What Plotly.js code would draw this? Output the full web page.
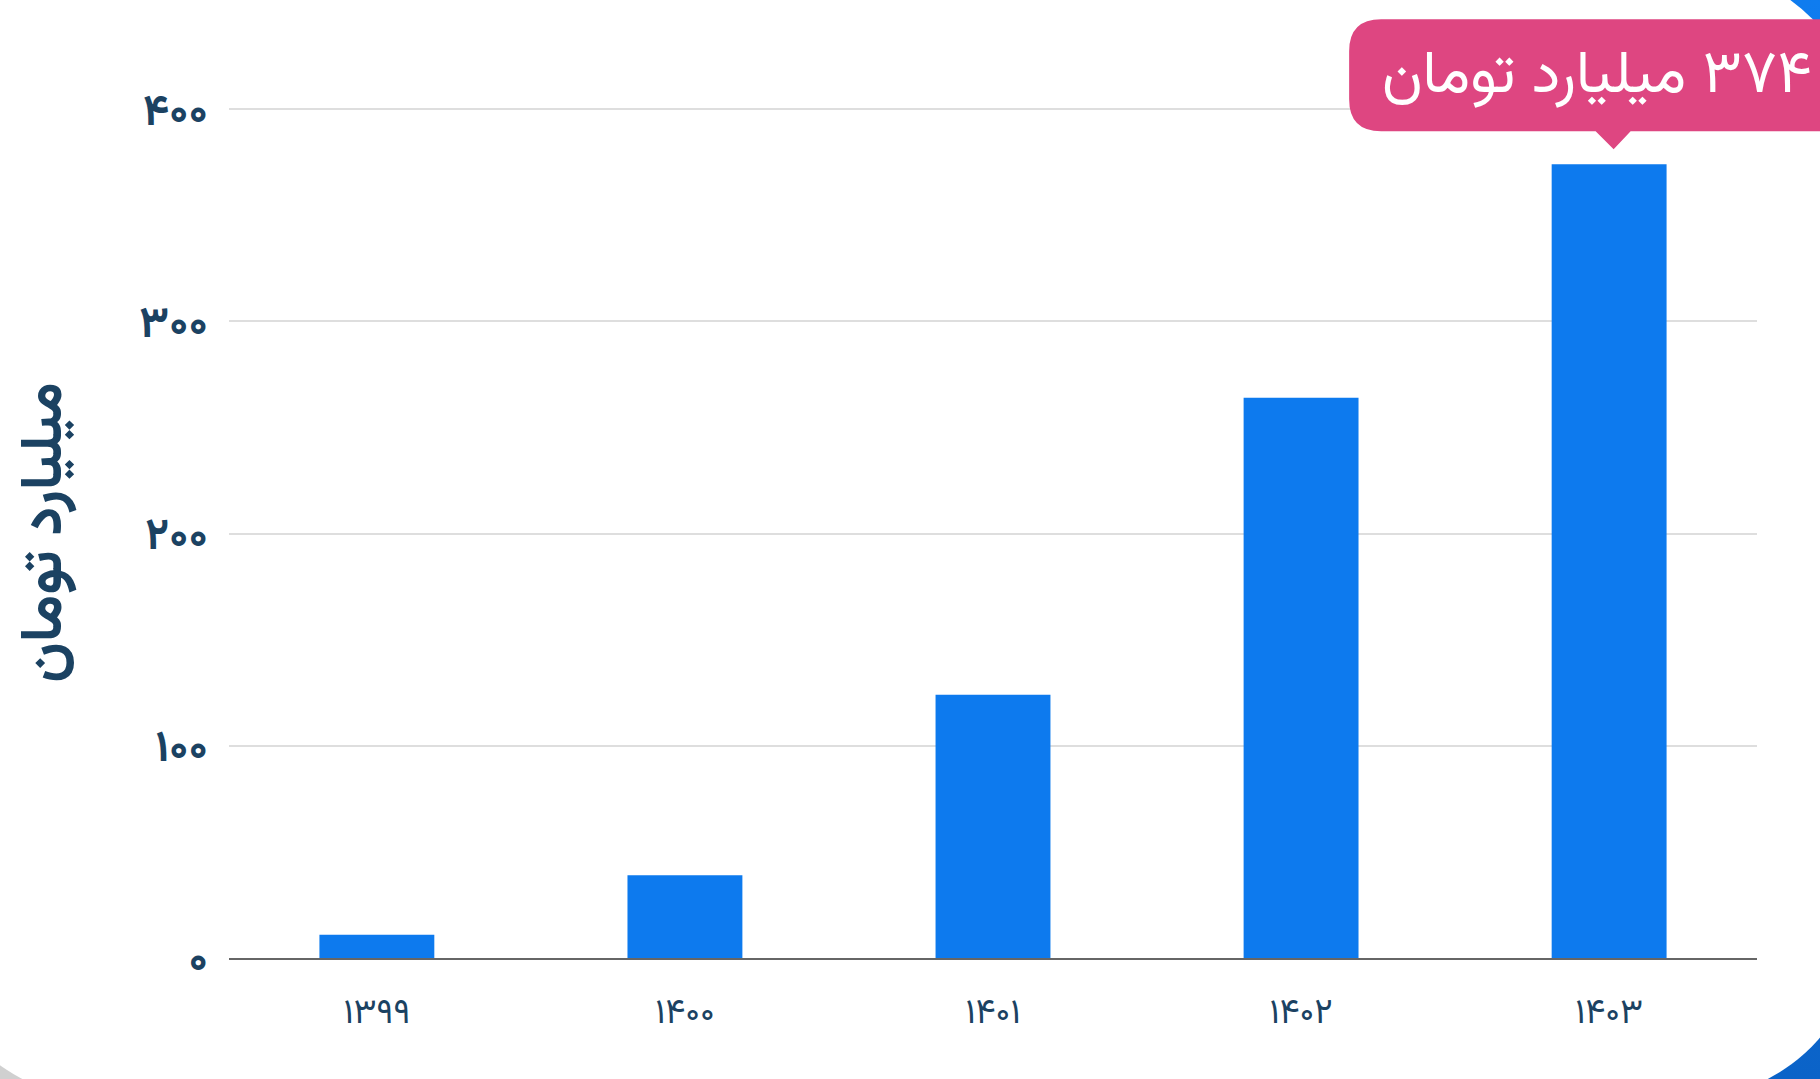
<!DOCTYPE html>
<html>
<head>
<meta charset="utf-8">
<script src="https://cdn.plot.ly/plotly-3.0.1.min.js"></script>
<style>
  html, body { margin: 0; padding: 0; width: 1820px; height: 1079px; overflow: hidden; }
  #bgL { position: absolute; left: 0; top: 0; width: 910px; height: 1079px; background: #d0d0d0; }
  #bgR { position: absolute; left: 910px; top: 0; width: 910px; height: 1079px;
         background: linear-gradient(to bottom, #0f7cef 0%, #0b63c8 100%); }
  #card { position: absolute; left: -75px; top: -35px; width: 1940px; height: 1135px;
          background: #ffffff; border-radius: 182px; }
  #chart { position: absolute; left: 0; top: 0; width: 1820px; height: 1079px; }
</style>
</head>
<body>
<div id="bgL"></div>
<div id="bgR"></div>
<div id="card"></div>
<div id="chart"></div>
<script>
// ---- data ----
const years = ["۱۳۹۹", "۱۴۰۰", "۱۴۰۱", "۱۴۰۲", "۱۴۰۳"];
const revenue = [11, 39, 124, 264, 374];          // میلیارد تومان
const yTickVals = [0, 100, 200, 300, 400];
const yTickText = ["۰", "۱۰۰", "۲۰۰", "۳۰۰", "۴۰۰"];
const unitLabel = "میلیارد تومان";

const faDigits = "۰۱۲۳۴۵۶۷۸۹";
function toFa(n) { return String(n).replace(/[0-9]/g, d => faDigits[+d]); }

const navy = "#1b4262";
const fontFam = "Vazirmatn, 'Noto Sans Arabic', 'DejaVu Sans', sans-serif";

const xRange = [-0.48, 4.48];
const yRange = [0, 401];

const lastIdx = revenue.length - 1;
const lastVal = revenue[lastIdx];
const anchorX = (lastIdx - xRange[0]) / (xRange[1] - xRange[0]);
const anchorY = (lastVal - yRange[0]) / (yRange[1] - yRange[0]);

// rounded callout box (pixel offsets relative to the top of the last bar, y up)
const L = -260, R = 340, T = 145, B = 33, r = 32;
const boxPath = `M ${L + r},${T} H ${R} V ${B} H 21.5 L 4.5,15 L -13.5,${B} H ${L + r} ` +
                `Q ${L},${B} ${L},${B + r} V ${T - r} Q ${L},${T} ${L + r},${T} Z`;

const trace = {
  type: "bar",
  x: years,
  y: revenue,
  marker: { color: "#0d7aee" },
  hoverinfo: "skip"
};

const layout = {
  width: 1820,
  height: 1079,
  margin: { l: 229, r: 63, t: 107, b: 121 },
  paper_bgcolor: "rgba(0,0,0,0)",
  plot_bgcolor: "rgba(0,0,0,0)",
  showlegend: false,
  bargap: 0.627,
  font: { family: fontFam, color: navy },
  xaxis: {
    type: "category",
    range: xRange,
    showgrid: false,
    zeroline: false,
    showline: true,
    linecolor: "#666666",
    linewidth: 2,
    ticks: "",
    ticklabelstandoff: 21,
    tickfont: { family: fontFam, size: 35, color: navy },
    fixedrange: true
  },
  yaxis: {
    range: yRange,
    tickvals: yTickVals,
    ticktext: yTickText,
    showgrid: true,
    gridcolor: "#dedede",
    gridwidth: 2,
    zeroline: false,
    showline: false,
    ticks: "",
    ticklabelstandoff: 20,
    tickfont: { family: fontFam, size: 44, color: navy, weight: "bold" },
    title: {
      text: unitLabel,
      font: { family: fontFam, size: 58, color: navy, weight: "bold" },
      standoff: 58
    },
    fixedrange: true
  },
  shapes: [{
    type: "path",
    xref: "paper", yref: "paper",
    xsizemode: "pixel", ysizemode: "pixel",
    xanchor: anchorX, yanchor: anchorY,
    path: boxPath,
    fillcolor: "#de4681",
    line: { width: 0 },
    layer: "above"
  }],
  annotations: [{
    x: years[lastIdx],
    y: lastVal,
    xref: "x", yref: "y",
    xanchor: "left", yanchor: "middle",
    xshift: -229, yshift: 87,
    showarrow: false,
    text: "\u202B" + toFa(lastVal) + " " + unitLabel + "\u202C",
    font: { family: fontFam, size: 60, color: "#ffffff" }
  }]
};

Plotly.newPlot("chart", [trace], layout, { displayModeBar: false, staticPlot: true });
</script>
</body>
</html>
